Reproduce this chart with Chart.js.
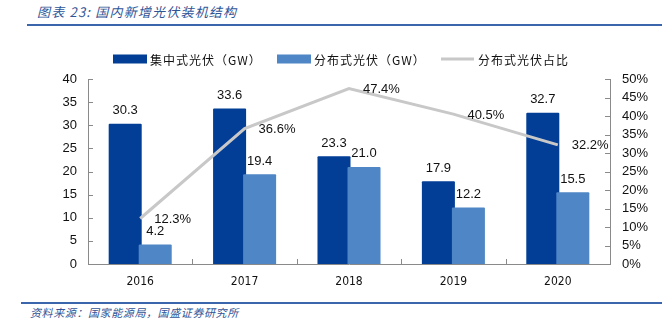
<!DOCTYPE html>
<html>
<head>
<meta charset="utf-8">
<script src="https://cdn.jsdelivr.net/npm/chart.js@4.4.0/dist/chart.umd.min.js"></script>
<style>
  body { margin: 0; background: #fff; width: 662px; height: 328px; overflow: hidden; position: relative; font-family: 'Noto Sans CJK SC', sans-serif; }
  #title { position: absolute; left: 37px; top: 3px; font-size: 13px; line-height: 18px; font-style: italic; color: #2f5597; letter-spacing: 1.2px; white-space: nowrap; }
  #topline { position: absolute; left: 27px; right: 0; top: 24px; height: 2px; background: #3c66ac; }
  #wrap { position: absolute; left: 0; top: 0; width: 662px; height: 300px; }
  #bottomline { position: absolute; left: 21px; right: 0; top: 302px; height: 2px; background: #3c66ac; }
  #source { position: absolute; left: 30px; top: 305px; font-size: 11px; line-height: 15px; font-style: italic; color: #2f5597; letter-spacing: 0.6px; white-space: nowrap; }
</style>
</head>
<body>
<div id="title">图表 23: 国内新增光伏装机结构</div>
<div id="topline"></div>
<div id="wrap"><canvas id="chart" width="662" height="300"></canvas></div>
<div id="bottomline"></div>
<div id="source">资料来源：国家能源局，国盛证券研究所</div>
<script>
  // data
  const years = ['2016', '2017', '2018', '2019', '2020'];
  const centralized = [30.3, 33.6, 23.3, 17.9, 32.7];   // GW
  const distributed = [4.2, 19.4, 21.0, 12.2, 15.5];    // GW
  const distShare = [12.3, 36.6, 47.4, 40.5, 32.2];     // %
  const seriesNames = ['集中式光伏（GW）', '分布式光伏（GW）', '分布式光伏占比'];
  const leftTicks = [0, 5, 10, 15, 20, 25, 30, 35, 40];
  const rightTicks = [0, 5, 10, 15, 20, 25, 30, 35, 40, 45, 50];

  const DARK = '#023e96';
  const LIGHT = '#4f86c6';
  const GREY = '#c8c8c8';
  const AXIS = '#8a8a8a';
  const numFont = "'Liberation Sans', Arial, sans-serif";

  // light bars overlap the dark ones a little, so draw them after the dark ones
  const layerFix = {
    id: 'layerFix',
    beforeDatasetDraw(chart, args) {
      if (args.index === 1) return false;
    },
    afterDatasetDraw(chart, args) {
      if (args.index === 0) chart.getDatasetMeta(1).controller.draw();
    }
  };

  const extras = {
    id: 'extras',
    afterDraw(chart) {
      const ctx = chart.ctx;
      const area = chart.chartArea;
      const x = chart.scales.x, yl = chart.scales.y, yr = chart.scales.y1;
      ctx.save();

      // inward tick marks
      ctx.strokeStyle = AXIS;
      ctx.lineWidth = 1;
      ctx.beginPath();
      leftTicks.forEach(v => {
        const py = Math.round(yl.getPixelForValue(v)) + 0.5;
        ctx.moveTo(area.left, py); ctx.lineTo(area.left + 5, py);
      });
      rightTicks.forEach(v => {
        const py = Math.round(yr.getPixelForValue(v)) + 0.5;
        ctx.moveTo(area.right - 5, py); ctx.lineTo(area.right, py);
      });
      for (let i = 0; i < years.length - 1; i++) {
        const px = Math.round((x.getPixelForValue(i) + x.getPixelForValue(i + 1)) / 2) + 0.5;
        ctx.moveTo(px, area.bottom); ctx.lineTo(px, area.bottom - 5);
      }
      ctx.stroke();

      // value labels
      ctx.fillStyle = '#111';
      ctx.font = '13px ' + numFont;
      ctx.textAlign = 'center';
      ctx.textBaseline = 'middle';
      [centralized, distributed].forEach((arr, di) => {
        chart.getDatasetMeta(di).data.forEach((el, i) => {
          ctx.fillText(arr[i].toFixed(1), el.x, el.y - 13);
        });
      });
      ctx.textAlign = 'left';
      chart.getDatasetMeta(2).data.forEach((pt, i) => {
        ctx.fillText(distShare[i].toFixed(1) + '%', pt.x + 14, pt.y + 1);
      });

      // legend
      const legendX = [113, 277, 441];
      const ly = 59;
      ctx.font = "12px 'Noto Sans CJK SC', sans-serif";
      ctx.letterSpacing = '1px';
      ctx.fillStyle = DARK;
      ctx.fillRect(legendX[0], ly - 4.5, 34, 9);
      ctx.fillStyle = LIGHT;
      ctx.fillRect(legendX[1], ly - 4.5, 34, 9);
      ctx.strokeStyle = GREY;
      ctx.lineWidth = 3;
      ctx.beginPath();
      ctx.moveTo(legendX[2], ly); ctx.lineTo(legendX[2] + 33, ly);
      ctx.stroke();
      ctx.fillStyle = '#111';
      seriesNames.forEach((name, i) => {
        ctx.fillText(name, legendX[i] + 37, ly + 1);
      });
      ctx.restore();
    }
  };

  new Chart(document.getElementById('chart'), {
    data: {
      labels: years,
      datasets: [
        { type: 'bar', label: seriesNames[0], data: centralized, backgroundColor: DARK, yAxisID: 'y', order: 1,
          categoryPercentage: 0.575, barPercentage: 1.1, borderRadius: 1 },
        { type: 'bar', label: seriesNames[1], data: distributed, backgroundColor: LIGHT, yAxisID: 'y', order: 1,
          categoryPercentage: 0.575, barPercentage: 1.1, borderRadius: 1 },
        { type: 'line', label: seriesNames[2], data: distShare, borderColor: GREY, borderWidth: 3,
          pointRadius: 0, tension: 0, yAxisID: 'y1', order: 0 }
      ]
    },
    options: {
      responsive: false,
      animation: false,
      layout: { padding: { top: 79, left: 0, right: 0, bottom: 0 } },
      plugins: { legend: { display: false }, tooltip: { enabled: false } },
      scales: {
        x: {
          grid: { display: false, drawTicks: false },
          border: { display: true, color: AXIS, width: 1 },
          ticks: { color: '#111', padding: 11, font: { family: "'Liberation Sans Narrow', 'DejaVu Sans Condensed', sans-serif", size: 12 } },
          afterFit(scale) { scale.height = 36; }
        },
        y: {
          position: 'left', min: 0, max: 40,
          grid: { display: false, drawTicks: false },
          border: { display: true, color: AXIS, width: 1 },
          ticks: { stepSize: 5, autoSkip: false, color: '#111', padding: 11, font: { family: numFont, size: 13 } },
          afterFit(scale) { scale.width = 88; }
        },
        y1: {
          position: 'right', min: 0, max: 50,
          grid: { display: false, drawTicks: false },
          border: { display: true, color: AXIS, width: 1 },
          ticks: { stepSize: 5, autoSkip: false, color: '#111', padding: 12, font: { family: numFont, size: 13 },
            callback: v => v + '%' },
          afterFit(scale) { scale.width = 52; }
        }
      }
    },
    plugins: [layerFix, extras]
  });
</script>
</body>
</html>
